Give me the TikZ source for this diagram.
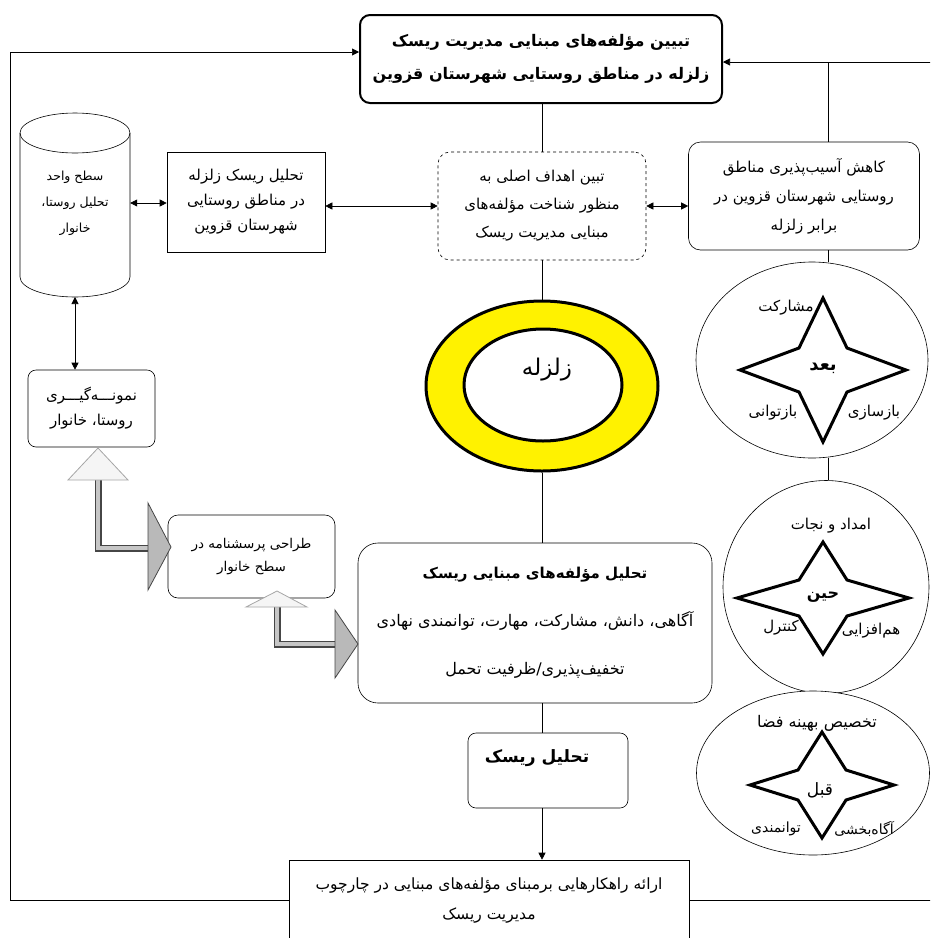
\documentclass[tikz,border=0pt]{standalone}
\usepackage{fontspec}
\usepackage{tikz}
\usetikzlibrary{arrows.meta,shapes.geometric,positioning}
\newfontfamily\pfont[Script=Arabic]{DejaVu Sans}
\TeXXeTstate=1
\newcommand{\fa}[1]{\beginR #1\endR}

\tikzset{
	box/.style={draw, line width=0.6pt, align=center, inner sep=2pt, fill=white, font=\pfont\fontsize{15}{26}\selectfont},
	rbox/.style={box, rounded corners=8pt},
	dbl/.style={line width=0.6pt, {Triangle[length=7pt,width=7pt]}-{Triangle[length=7pt,width=7pt]}},
	sgl/.style={line width=0.6pt, -{Triangle[length=7pt,width=7pt]}},
	link/.style={line width=0.6pt},
	ring/.style={ellipse, draw, line width=0.6pt, fill=white, inner sep=0pt},
	fourstar/.style={line width=3pt, line join=miter, miter limit=10},
	lbl/.style={font=\pfont\fontsize{15}{17}\selectfont, inner sep=1pt},
	shaft/.style={line width=7pt, gray!55!black, line join=miter},
	shaftin/.style={line width=4.5pt, gray!45, line join=miter},
	uphead/.style={fill=gray!8, draw=gray!70, line width=0.8pt},
	sidehead/.style={fill=gray!55, draw=gray!55!black, line width=0.8pt},
}

\begin{document}
\begin{tikzpicture}[x=1pt,y=-1pt]
	\useasboundingbox (0,0) rectangle (930,938);
	\clip (0,0) rectangle (930,938);

	\node[rbox, rounded corners=10pt, line width=2pt, minimum width=362pt, minimum height=88pt,
		font=\pfont\bfseries\fontsize{16}{33}\selectfont] (top) at (541,59)
		{\fa{تبیین مؤلفه^^^^200cهای مبنایی مدیریت ریسک}\\\fa{زلزله در مناطق روستایی شهرستان قزوین}};
	\node[box, minimum width=158pt, minimum height=100pt, font=\pfont\fontsize{15}{25}\selectfont] (risk) at (246,202)
		{\fa{تحلیل ریسک زلزله}\\\fa{در مناطق روستایی}\\\fa{شهرستان قزوین}};
	\node[rbox, dashed, rounded corners=12pt, minimum width=208pt, minimum height=108pt,
		font=\pfont\fontsize{15}{28}\selectfont] (goal) at (542,206)
		{\fa{تبین اهداف اصلی به}\\\fa{منظور شناخت مؤلفه^^^^200cهای}\\\fa{مبنایی مدیریت ریسک}};
	\node[rbox, rounded corners=12pt, minimum width=231pt, minimum height=108pt,
		font=\pfont\fontsize{15}{29}\selectfont] (reduce) at (804,196)
		{\fa{کاهش آسیب^^^^200cپذیری مناطق}\\\fa{روستایی شهرستان قزوین در}\\\fa{برابر زلزله}};

	\node[minimum width=110pt, minimum height=184pt, inner sep=0pt, align=center,
		font=\pfont\fontsize{12.5}{26}\selectfont] (cyl) at (75,203)
		{\fa{سطح واحد}\\\fa{تحلیل روستا،}\\\fa{خانوار}};
	\draw[link] (20,133) -- (20,277) arc[start angle=180, end angle=0, x radius=55, y radius=20] -- (130,133);
	\draw[link] (75,133) ellipse [x radius=55, y radius=20];

	\node[rbox, minimum width=127pt, minimum height=77pt, font=\pfont\fontsize{15}{25}\selectfont] (sample) at (91.5,408.5)
		{\fa{نمونـــه^^^^200cگیـــری}\\\fa{روستا، خانوار}};
	\node[rbox, rounded corners=10pt, minimum width=167pt, minimum height=83pt,
		font=\pfont\fontsize{13.5}{23}\selectfont] (quest) at (251.5,556.5)
		{\fa{طراحی پرسشنامه در}\\\fa{سطح خانوار}};
	\node[rbox, rounded corners=20pt, minimum width=354pt, minimum height=160pt,
		font=\pfont\fontsize{16}{48}\selectfont] (analysis) at (535,623)
		{\fa{\bfseries\fontsize{15}{17}\selectfont تحلیل مؤلفه^^^^200cهای مبنایی ریسک}\\
		 \fa{آگاهی، دانش، مشارکت، مهارت، توانمندی نهادی}\\
		 \fa{تخفیف^^^^200cپذیری/ظرفیت تحمل}};
	\node[rbox, minimum width=160pt, minimum height=75pt] (small) at (548,770.5) {};
	\node[font=\pfont\bfseries\fontsize{17}{20}\selectfont] (smalltxt) at (537,758) {\fa{تحلیل ریسک}};
	\node[box, minimum width=400pt, minimum height=80pt, font=\pfont\fontsize{15.5}{30}\selectfont] (bottom) at (489,900)
		{\fa{ارائه راهکارهایی برمبنای مؤلفه^^^^200cهای مبنایی در چارچوب}\\\fa{مدیریت ریسک}};

	\node[ellipse, draw, line width=3pt, fill=yellow, minimum width=232pt, minimum height=170pt] (quake) at (542,386) {};
	\node[ellipse, draw, line width=3pt, fill=white, minimum width=158pt, minimum height=112pt] (quakein) at (543,385) {};
	\node[font=\pfont\fontsize{23}{26}\selectfont] (quaketxt) at (547,370) {\fa{زلزله}};

	\coordinate (lt) at (10,52);
	\coordinate (rt) at (945,62);
	\coordinate (rc) at (828,0);
	\draw[sgl] (bottom.west) -| (lt) -- (lt -| top.west);
	\draw[sgl] (bottom.east) -| (rt) -- (rt -| top.east);
	\draw[link] (rc |- rt) -- (rc |- reduce.north);

	\draw[link] (goal.north) -- (goal.north |- top.south);
	\draw[link] (goal.south) -- (quake.north);
	\draw[link] (quake.south) -- (quake.south |- analysis.north);
	\draw[link] (analysis.south -| quake.south) -- (small.north -| quake.south);
	\draw[sgl] (small.south -| quake.south) -- (bottom.north -| quake.south);

	\draw[dbl] (cyl.east) -- (cyl.east -| risk.west);
	\draw[dbl] (goal.west -| risk.east) -- (goal.west);
	\draw[dbl] (goal.east) -- (goal.east -| reduce.west);
	\draw[dbl] (75,297) -- (sample.north -| 75,0);

	\node[ring, minimum width=232pt, minimum height=196pt] (post) at (812,360) {};
	\node[ring, minimum width=206pt, minimum height=213pt] (during) at (826,587) {};
	\node[ring, minimum width=233pt, minimum height=164pt] (pre) at (813,773) {};
	\draw[link] (rc |- reduce.south) -- (rc |- post.north);
	\draw[link] (rc |- post.south) -- (rc |- during.north);

	\foreach \cx/\cy/\sx/\sy/\ix/\iy in {823/370/83/72/24/22, 823/598/86/56/24/18, 822/785/72/53/24/15}{
		\draw[fourstar] (\cx,\cy-\sy) -- (\cx+\ix,\cy-\iy) -- (\cx+\sx,\cy) -- (\cx+\ix,\cy+\iy)
			-- (\cx,\cy+\sy) -- (\cx-\ix,\cy+\iy) -- (\cx-\sx,\cy) -- (\cx-\ix,\cy-\iy) -- cycle;
	}
	\node[lbl] (p1) at (786,308) {\fa{مشارکت}};
	\node[lbl, font=\pfont\bfseries\fontsize{18}{20}\selectfont] (p0) at (823,368) {\fa{بعد}};
	\node[lbl] (p2) at (773,413) {\fa{بازتوانی}};
	\node[lbl] (p3) at (874,413) {\fa{بازسازی}};
	\node[lbl] (d1) at (831,526) {\fa{امداد و نجات}};
	\node[lbl, font=\pfont\bfseries\fontsize{16}{18}\selectfont] (d0) at (823,597) {\fa{حین}};
	\node[lbl] (d2) at (781,628) {\fa{کنترل}};
	\node[lbl] (d3) at (871,631) {\fa{هم^^^^200cافزایی}};
	\node[lbl, font=\pfont\fontsize{16}{18}\selectfont] (b1) at (817,723) {\fa{تخصیص بهینه فضا}};
	\node[lbl, font=\pfont\fontsize{17}{19}\selectfont] (b0) at (820,790) {\fa{قبل}};
	\node[lbl, font=\pfont\fontsize{14}{16}\selectfont] (b2) at (776,829) {\fa{توانمندی}};
	\node[lbl, font=\pfont\fontsize{14}{16}\selectfont] (b3) at (864,829) {\fa{آگاه^^^^200cبخشی}};

	\draw[shaft] (98,480) -- (98,548) -- (150,548);
	\draw[shaftin] (98,480) -- (98,548) -- (150,548);
	\draw[uphead] (68,480) -- (98,448) -- (128,480) -- cycle;
	\draw[sidehead] (148,503) -- (171,547) -- (148,590) -- cycle;
	\draw[shaft] (277,606) -- (277,644) -- (336,644);
	\draw[shaftin] (277,606) -- (277,644) -- (336,644);
	\draw[uphead] (246,607) -- (277,591) -- (307,607) -- cycle;
	\draw[sidehead] (335,610) -- (358,644) -- (335,678) -- cycle;
\end{tikzpicture}
\end{document}
